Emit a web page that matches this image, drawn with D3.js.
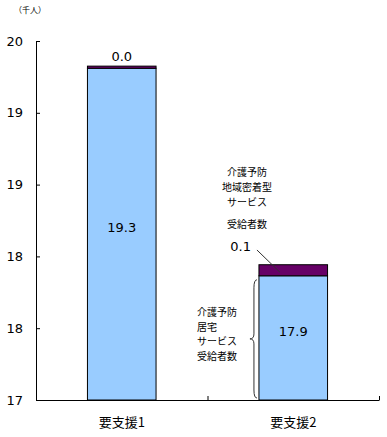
<!DOCTYPE html>
<html>
<head>
<meta charset="utf-8">
<script src="https://cdn.jsdelivr.net/npm/d3@7"></script>
<style>
  body { margin: 0; background: #fff; }
  text { font-family: "Noto Sans CJK JP", sans-serif; fill: #000; }
</style>
</head>
<body>
<svg id="chart"></svg>
<script>
// 要支援区分ごとの受給者数（千人）
const categories = ["要支援1", "要支援2"];
const kyotaku = [19.31, 17.865];      // 介護予防居宅サービス受給者数
const chiiki = [0.015, 0.077];        // 介護予防地域密着型サービス受給者数
const yTicks = [17, 17.5, 18, 18.5, 19, 19.5];

const svgWidth = 387, svgHeight = 437;
const margin = { top: 41, right: 8, bottom: 37, left: 36 };
const width = svgWidth - margin.left - margin.right;
const height = svgHeight - margin.top - margin.bottom;

const svg = d3.select("#chart")
  .attr("width", svgWidth)
  .attr("height", svgHeight);

const g = svg.append("g")
  .attr("transform", `translate(${margin.left},${margin.top})`);

const x = d3.scaleBand()
  .domain(categories)
  .range([0, width])
  .paddingInner(0.6)
  .paddingOuter(0.3);

const y = d3.scaleLinear()
  .domain([17, 19.5])
  .range([height, 0]);

// y axis
const yAxis = g.append("g")
  .call(d3.axisLeft(y).tickValues(yTicks).tickFormat(d3.format(".0f"))
    .tickSizeInner(-4).tickSizeOuter(0).tickPadding(13));
yAxis.select(".domain").attr("stroke", "#000");
yAxis.selectAll("text").style("font-size", "13px").style("font-family", "DejaVu Sans, sans-serif");

// x axis (ticks at category boundaries)
const xb = d3.scaleLinear().domain([0, categories.length]).range([0, width]);
const xAxis = g.append("g")
  .attr("transform", `translate(0,${height})`)
  .call(d3.axisBottom(xb).tickValues(d3.range(categories.length + 1))
    .tickFormat("").tickSizeInner(-4).tickSizeOuter(0));
xAxis.select(".domain").attr("stroke", "#000");

g.selectAll(".cat")
  .data(categories)
  .enter().append("text")
  .attr("x", d => x(d) + x.bandwidth() / 2)
  .attr("y", height + 27)
  .attr("text-anchor", "middle")
  .style("font-size", "13px")
  .text(d => d);

// bars
const stacked = categories.map((c, i) => ({
  cat: c, a: kyotaku[i], b: chiiki[i]
}));

g.selectAll(".barA")
  .data(stacked)
  .enter().append("rect")
  .attr("x", d => x(d.cat))
  .attr("y", d => y(d.a))
  .attr("width", x.bandwidth())
  .attr("height", d => y(17) - y(d.a))
  .attr("fill", "#99CCFF")
  .attr("stroke", "#000")
  .attr("stroke-width", 1);

g.selectAll(".barB")
  .data(stacked)
  .enter().append("rect")
  .attr("x", d => x(d.cat))
  .attr("y", d => y(d.a + d.b))
  .attr("width", x.bandwidth())
  .attr("height", d => y(d.a) - y(d.a + d.b))
  .attr("fill", "#660066")
  .attr("stroke", "#000")
  .attr("stroke-width", 1);

// value labels
g.selectAll(".valA")
  .data(stacked)
  .enter().append("text")
  .attr("x", d => x(d.cat) + x.bandwidth() / 2)
  .attr("y", d => (y(d.a) + y(17)) / 2 - 2)
  .attr("text-anchor", "middle")
  .style("font-size", "13px")
  .style("font-family", "DejaVu Sans, sans-serif")
  .text(d => d3.format(".1f")(d.a));

// 要支援1: label above bar
const s0 = stacked[0];
g.append("text")
  .attr("x", x(s0.cat) + x.bandwidth() / 2)
  .attr("y", y(s0.a + s0.b) - 5)
  .attr("text-anchor", "middle")
  .style("font-size", "13px")
  .style("font-family", "DejaVu Sans, sans-serif")
  .text(d3.format(".1f")(s0.b));

// 要支援2: label to the left with leader line
const s1 = stacked[1];
const bx = x(s1.cat);
const midB = (y(s1.a) + y(s1.a + s1.b)) / 2;
g.append("text")
  .attr("x", bx - 8)
  .attr("y", 210)
  .attr("text-anchor", "end")
  .style("font-size", "13px")
  .style("font-family", "DejaVu Sans, sans-serif")
  .text(d3.format(".1f")(s1.b));
g.append("line")
  .attr("x1", bx - 2).attr("y1", 209)
  .attr("x2", bx + 21).attr("y2", midB + 2)
  .attr("stroke", "#333").attr("stroke-width", 1);

// annotation: 地域密着型
const noteTop = ["介護予防", "地域密着型", "サービス"];
g.selectAll(".noteTop")
  .data(noteTop)
  .enter().append("text")
  .attr("x", bx - 12)
  .attr("y", (d, i) => 135 + i * 15)
  .attr("text-anchor", "middle")
  .style("font-size", "10px")
  .text(d => d);
g.append("text")
  .attr("x", bx - 12)
  .attr("y", 187)
  .attr("text-anchor", "middle")
  .style("font-size", "10px")
  .text("受給者数");

// annotation: 居宅
const noteBottom = ["介護予防", "居宅", "サービス", "受給者数"];
g.selectAll(".noteBot")
  .data(noteBottom)
  .enter().append("text")
  .attr("x", bx - 62)
  .attr("y", (d, i) => 275 + i * 14.5)
  .attr("text-anchor", "start")
  .style("font-size", "10px")
  .text(d => d);

// brace
const bTop = y(s1.a) + 4, bBot = y(17) - 2, bMid = (bTop + bBot) / 2;
const bxr = bx - 2, bxl = bx - 7;
g.append("path")
  .attr("d", `M${bxr},${bTop} Q${bxl + 2},${bTop} ${bxl + 2},${bTop + 8}
    L${bxl + 2},${bMid - 5} Q${bxl + 2},${bMid} ${bxl - 2},${bMid}
    Q${bxl + 2},${bMid} ${bxl + 2},${bMid + 5}
    L${bxl + 2},${bBot - 8} Q${bxl + 2},${bBot} ${bxr},${bBot}`)
  .attr("fill", "none")
  .attr("stroke", "#333")
  .attr("stroke-width", 1);

// unit
svg.append("text")
  .attr("x", 14)
  .attr("y", 13)
  .style("font-size", "8px")
  .text("（千人）");
</script>
</body>
</html>
